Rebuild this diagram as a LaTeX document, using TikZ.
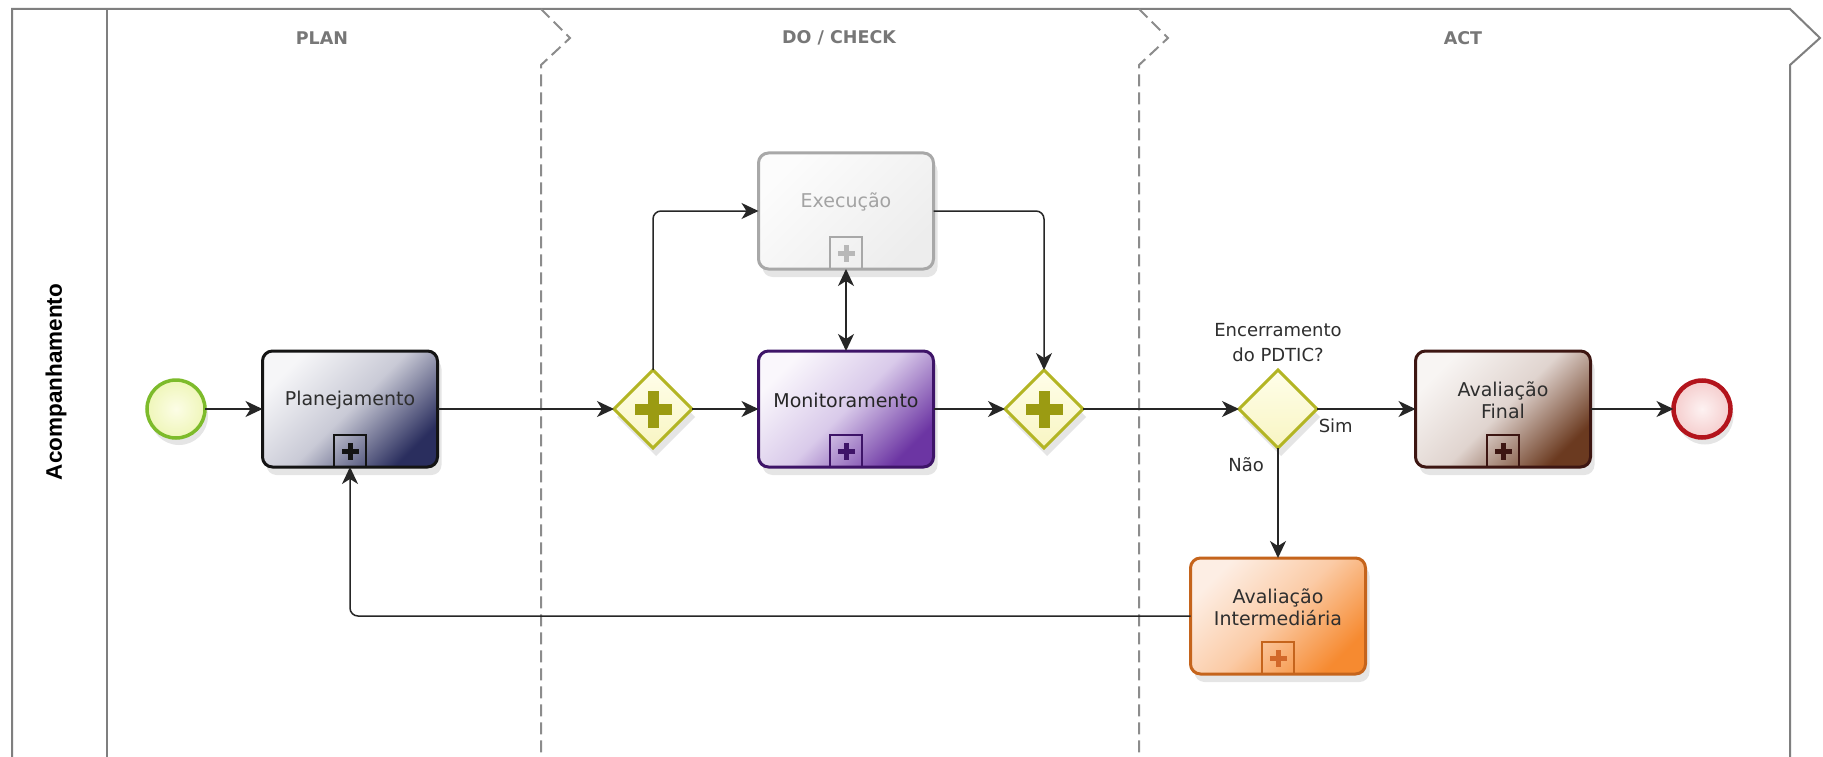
\documentclass[tikz,border=0pt]{standalone}
\usepackage{fontspec}
\setmainfont{DejaVu Sans}
\newfontfamily\lanefont{Liberation Sans}
\usetikzlibrary{arrows.meta,shapes.geometric,shadows}
\definecolor{laneline}{HTML}{7F7F7F}
\definecolor{dashline}{HTML}{8C8C8C}
\definecolor{headtext}{HTML}{777777}
\definecolor{tasktext}{HTML}{2E2E2E}
\definecolor{plborder}{HTML}{141414}
\definecolor{pllight}{HTML}{F6F6F8}
\definecolor{plmid}{HTML}{C9CAD6}
\definecolor{pldark}{HTML}{2A2E5E}
\definecolor{moborder}{HTML}{3E1468}
\definecolor{molight}{HTML}{FAF7FC}
\definecolor{momid}{HTML}{D9CAEA}
\definecolor{modark}{HTML}{6C35A3}
\definecolor{exborder}{HTML}{A8A8A8}
\definecolor{exlight}{HTML}{FCFCFC}
\definecolor{exdark}{HTML}{EDEDED}
\definecolor{extext}{HTML}{A3A3A3}
\definecolor{explus}{HTML}{B8B8B8}
\definecolor{afborder}{HTML}{3D1612}
\definecolor{aflight}{HTML}{F8F5F3}
\definecolor{afmid}{HTML}{E0D4CF}
\definecolor{afdark}{HTML}{6B3A20}
\definecolor{aiborder}{HTML}{C5641C}
\definecolor{aiplus}{HTML}{D2682A}
\definecolor{ailight}{HTML}{FDEEE4}
\definecolor{aimid}{HTML}{FBCBA6}
\definecolor{aidark}{HTML}{F68A30}
\definecolor{gwborder}{HTML}{B3B524}
\definecolor{gwlight}{HTML}{FFFEEA}
\definecolor{gwdark}{HTML}{F8F5C2}
\definecolor{gwcross}{HTML}{9B9B12}
\definecolor{stborder}{HTML}{7DBB2B}
\definecolor{stin}{HTML}{FCFDE6}
\definecolor{stout}{HTML}{EFF6B9}
\definecolor{enborder}{HTML}{B3141C}
\definecolor{enin}{HTML}{FDF2F2}
\definecolor{enout}{HTML}{F5CDCD}
\definecolor{ghostline}{HTML}{ECECEC}
\pgfdeclarelayer{bg}
\pgfsetlayers{bg,main}
\newcommand\subprocmark[3]{%
  \draw[line width=2.2pt, draw=#2] ([xshift=-16pt]#1.south) rectangle ([xshift=16pt,yshift=32pt]#1.south);
  \fill[#3] ([xshift=-8.5pt,yshift=13.5pt]#1.south) rectangle ([xshift=8.5pt,yshift=18.5pt]#1.south);
  \fill[#3] ([xshift=-2.5pt,yshift=7.5pt]#1.south) rectangle ([xshift=2.5pt,yshift=24.5pt]#1.south);
}
\newcommand\parplus[1]{%
  \fill[gwcross] ([xshift=-18.5pt,yshift=-5.5pt]#1.center) rectangle ([xshift=18.5pt,yshift=5.5pt]#1.center);
  \fill[gwcross] ([xshift=-5.5pt,yshift=-18.5pt]#1.center) rectangle ([xshift=5.5pt,yshift=18.5pt]#1.center);
}
\tikzset{
  tip/.tip={Stealth[length=17pt,width=16pt,inset=5pt]},
  laneframe/.style={draw=laneline, line width=2pt, line join=miter},
  phaseline/.style={draw=dashline, line width=2pt, dash pattern=on 12pt off 6pt},
  head/.style={font=\bfseries\fontsize{17.5}{20}\selectfont, text=headtext},
  task/.style={rectangle, rounded corners=10pt, minimum width=175pt, minimum height=116pt,
    inner sep=0pt, outer sep=0pt, line width=3pt,
    drop shadow={opacity=0.2, shadow xshift=4pt, shadow yshift=-8pt}},
  tlabel/.style={font=\fontsize{19}{22}\selectfont, text=tasktext, align=center, yshift=9pt},
  glabel/.style={font=\fontsize{18}{25}\selectfont, text=tasktext, align=center},
  gateway/.style={diamond, aspect=1, minimum width=78pt, minimum height=78pt, inner sep=0pt,
    outer sep=0pt, line width=3pt, draw=gwborder, top color=gwlight, bottom color=gwdark,
    drop shadow={opacity=0.2, shadow xshift=3pt, shadow yshift=-8pt}},
  startev/.style={circle, minimum size=58pt, inner sep=0pt, outer sep=0pt, line width=3.5pt,
    draw=stborder, inner color=stin, outer color=stout,
    drop shadow={opacity=0.2, shadow xshift=3pt, shadow yshift=-7pt}},
  endev/.style={circle, minimum size=57pt, inner sep=0pt, outer sep=0pt, line width=4.5pt,
    draw=enborder, inner color=enin, outer color=enout,
    drop shadow={opacity=0.2, shadow xshift=3pt, shadow yshift=-7pt}},
  flow/.style={line width=1.5pt, draw=black!85, rounded corners=8pt, -tip},
  ghost/.style={line width=1.5pt, draw=ghostline, rounded corners=8pt,
    -{Stealth[length=17pt,width=16pt,inset=5pt,fill=ghostline]}},
}
\begin{document}
\begin{tikzpicture}[x=1pt,y=-1pt]
\useasboundingbox (0,0) rectangle (1823,757);
\fill[white] (0,0) rectangle (1823,757);

% lane and phases
\draw[laneframe] (12,757) -- (12,9) -- (1790,9) -- (1820,38) -- (1790,65) -- (1790,757);
\draw[laneframe] (107,9) -- (107,757);
\draw[phaseline] (541,9) -- (570,38) -- (541,65) -- (541,757);
\draw[phaseline] (1139,9) -- (1168,38) -- (1139,65) -- (1139,757);

\node[head] (hplan) at (322,38) {PLAN};
\node[head] (hdo) at (839,38) {DO / CHECK};
\node[head] (hact) at (1463,38) {ACT};
\node[rotate=90, font=\lanefont\bfseries\fontsize{22.5}{22.5}\selectfont] (lane) at (56,382) {Acompanhamento};

% faint connector shadows
\begin{pgfonlayer}{bg}
\end{pgfonlayer}

% flow objects
\node[startev] (st) at (176,409) {};
\node[task, draw=plborder, top color=pllight, bottom color=pldark, middle color=plmid, shading angle=45,
  label={[tlabel]center:Planejamento}] (pl) at (350,409) {};
\node[gateway] (g1) at (653,409) {};
\node[task, draw=exborder, top color=exlight, bottom color=exdark, shading angle=45,
  label={[tlabel, text=extext]center:Execução}] (ex) at (846,211) {};
\node[task, draw=moborder, top color=molight, bottom color=modark, middle color=momid, shading angle=45,
  label={[tlabel, text=black!85]center:Monitoramento}] (mo) at (846,409) {};
\node[gateway] (g2) at (1044,409) {};
\node[gateway, label={[glabel, label distance=5pt]above:Encerramento\\do PDTIC?}] (g3) at (1278,409) {};
\node[task, draw=afborder, top color=aflight, bottom color=afdark, middle color=afmid, shading angle=45,
  label={[tlabel]center:Avaliação\\Final}] (af) at (1503,409) {};
\node[endev] (en) at (1702,409) {};
\node[task, draw=aiborder, top color=ailight, bottom color=aidark, middle color=aimid, shading angle=45,
  label={[tlabel]center:Avaliação\\Intermediária}] (ai) at (1278,616) {};

\subprocmark{pl}{plborder}{plborder}
\subprocmark{ex}{exborder}{explus}
\subprocmark{mo}{moborder}{moborder}
\subprocmark{af}{afborder}{afborder}
\subprocmark{ai}{aiborder}{aiplus}
\parplus{g1}
\parplus{g2}

% connectors
\draw[flow] (st) -- (pl);
\draw[flow] (pl) -- (g1);
\draw[flow] (g1) -- (mo);
\draw[flow] (g1.north) |- (ex.west);
\draw[flow] (ex.east) -| (g2.north);
\draw[flow, tip-tip] (ex.south) -- (mo.north);
\draw[flow] (mo) -- (g2);
\draw[flow] (g2) -- (g3);
\draw[flow] (g3) -- node[pos=0.19, below=6pt, glabel] (lsim) {Sim} (af);
\draw[flow] (g3) -- node[pos=0.15, left=10pt, glabel] (lnao) {Não} (ai);
\draw[flow] (ai.west) -| (pl.south);
\draw[flow] (af) -- (en);

\begin{pgfonlayer}{bg}
\begin{scope}[transform canvas={shift={(21pt,-18pt)}}]
\draw[ghost] (g1.north) |- (ex.west);
\draw[ghost] (ex.east) -| (g2.north);
\draw[ghost] (mo.north) -- (ex.south);
\draw[ghost] (g3) -- (ai);
\draw[ghost] (ai.west) -| (pl.south);
\end{scope}
\end{pgfonlayer}
\end{tikzpicture}
\end{document}
